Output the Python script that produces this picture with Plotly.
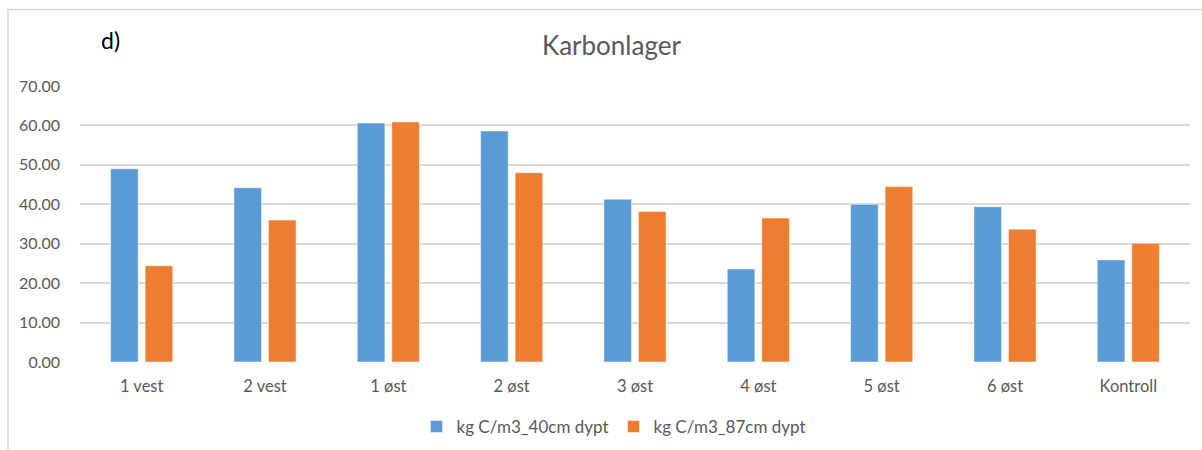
import plotly.graph_objects as go

categories = ["1 vest", "2 vest", "1 øst", "2 øst", "3 øst", "4 øst", "5 øst", "6 øst", "Kontroll"]
series_40 = [49.0, 44.2, 60.6, 58.6, 41.3, 23.6, 40.0, 39.4, 25.9]
series_87 = [24.4, 36.0, 60.9, 48.0, 38.2, 36.5, 44.5, 33.7, 30.1]
name_40 = "kg C/m3_40cm dypt"
name_87 = "kg C/m3_87cm dypt"
y_ticks = [0, 10, 20, 30, 40, 50, 60, 70]

FONT = "Lato"
GRAY = "#595959"

fig = go.Figure()
fig.add_trace(go.Bar(x=categories, y=series_40, name=name_40,
                     marker=dict(color="#5B9BD5", line=dict(color="rgba(255,255,255,0.5)", width=1))))
fig.add_trace(go.Bar(x=categories, y=series_87, name=name_87,
                     marker=dict(color="#ED7D31", line=dict(color="rgba(255,255,255,0.5)", width=1))))

fig.update_layout(
    width=1202, height=450,
    margin=dict(l=80, r=12, t=86, b=88, autoexpand=False),
    paper_bgcolor="white", plot_bgcolor="white",
    barmode="group", bargap=0.44, bargroupgap=0.2,
    font=dict(family=FONT, color=GRAY, size=16),
    showlegend=True,
    legend=dict(orientation="h", x=(614 - 80) / 1110, xanchor="center", y=-0.235, yanchor="middle",
                font=dict(size=17, color=GRAY), itemwidth=30, tracegroupgap=0),
    xaxis=dict(showgrid=False, showline=False, ticks="", ticklabelstandoff=12, automargin=False,
               tickfont=dict(size=16.5, color=GRAY)),
    yaxis=dict(range=[0, 70], tickvals=y_ticks, tickformat=".2f", showgrid=True, automargin=False,
               gridcolor="#d9d9d9", gridwidth=1.5, zeroline=False, showline=False,
               ticks="", ticklabelstandoff=19, tickfont=dict(size=16, color=GRAY)),
    shapes=[dict(type="rect", xref="paper", yref="paper",
                 x0=(8 - 80) / 1110, x1=(1206 - 80) / 1110,
                 y0=(362 - 460) / 276, y1=(362 - 9.5) / 276,
                 line=dict(color="#d9d9d9", width=1.5), fillcolor="rgba(0,0,0,0)", layer="below")],
    annotations=[
        dict(text="Karbonlager", xref="paper", yref="paper",
             x=(611 - 80) / 1110, y=(362 - 45) / 276, xanchor="center", yanchor="middle",
             showarrow=False, font=dict(size=26, color=GRAY, family=FONT)),
        dict(text="d)", xref="paper", yref="paper",
             x=(99 - 80) / 1110, y=(362 - 40) / 276, xanchor="left", yanchor="middle",
             showarrow=False, font=dict(size=23, color="black", family=FONT)),
    ],
)

fig.write_html("out.html", config={"displayModeBar": False},
               post_script="document.body.style.margin='0';")
